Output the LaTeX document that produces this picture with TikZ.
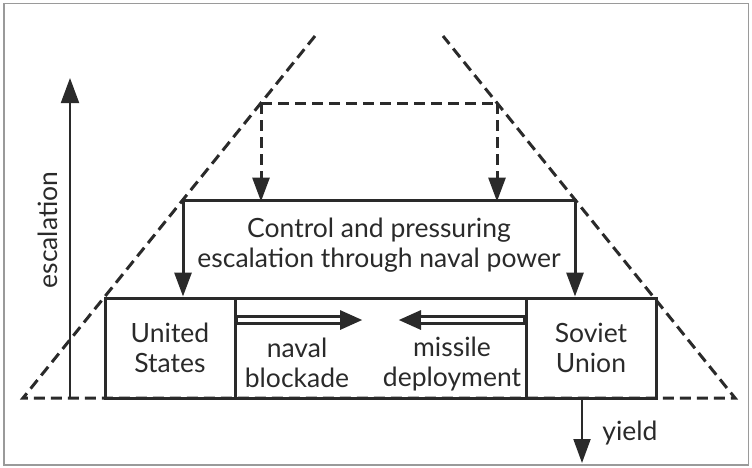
\documentclass[tikz,border=0pt]{standalone}
\usepackage{fontspec}
\setmainfont{Lato}
\usetikzlibrary{arrows.meta}
\definecolor{ink}{HTML}{2A2A2A}
\definecolor{framegray}{HTML}{9A9A9A}
\begin{document}
\begin{tikzpicture}[x=1pt,y=-1pt,
  every node/.style={font=\fontsize{26.5}{30}\selectfont, text=ink, inner sep=0pt},
  boxline/.style={draw=ink, line width=3pt},
  dashline/.style={draw=ink, line width=3pt, dash pattern=on 11pt off 6pt},
  bigtip/.style={-{Triangle[length=24pt,width=17pt]}},
  thinarrow/.style={draw=ink, line width=2pt},
  lbl/.style={align=center}]
\useasboundingbox (0,0) rectangle (752,467);
\draw[framegray, line width=1.5pt] (4,3.5) rectangle (748.5,465);

% dashed envelope
\coordinate (envTL) at (315,36);
\coordinate (envBL) at (23,398);
\coordinate (envBR) at (735,398);
\coordinate (envTR) at (443,36);
\draw[dashline, line join=miter] (envTL) -- (envBL) -- (envBR) -- (envTR);

% boxes
\node[boxline, minimum width=551pt, minimum height=100pt] (big) at (380.5,348) {};
\node[boxline, minimum width=130pt, minimum height=100pt] (us) at (170,348) {};
\node[boxline, minimum width=130pt, minimum height=100pt] (su) at (591,348) {};

\node[lbl] (ustext) at (170,348) {United\\States};
\node[lbl] (sutext) at (591,348) {Soviet\\Union};
\node[lbl] (navtext) at (297,363) {naval\\blockade};
\node[lbl] (mistext) at (452,364.5) {missile\\deployment};

% control box (top and arrow sides)
\coordinate (ctl) at (183,200);
\coordinate (ctr) at (575,200);
\node[lbl] (ctrl) at (379,245.5) {Control and pressuring\\escalation through naval power};
\draw[boxline, line cap=rect] (ctl) -- (ctr);
\draw[boxline, bigtip] (ctl) -- (ctl |- big.north);
\draw[boxline, bigtip] (ctr) -- (ctr |- big.north);

% dashed arrows from top
\coordinate (dl) at (261,103);
\coordinate (dr) at (497,103);
\draw[dashline] (dl) -- (dr);
\draw[dashline, bigtip] (dl) -- ([yshift=-1.5pt]dl |- ctl);
\draw[dashline, bigtip] (dr) -- ([yshift=-1.5pt]dr |- ctr);

% double arrows
\coordinate (ntip) at (363,320);
\coordinate (mtip) at (398,320);
\draw[ink, line width=9.5pt, -{Triangle[length=23pt,width=18pt]}] (us.east |- ntip) -- (ntip);
\draw[white, line width=4pt] ([xshift=1.5pt]us.east |- ntip) -- ([xshift=-23pt]ntip);
\draw[ink, line width=9.5pt, -{Triangle[length=23pt,width=18pt]}] (su.west |- mtip) -- (mtip);
\draw[white, line width=4pt] ([xshift=-1.5pt]su.west |- mtip) -- ([xshift=23pt]mtip);

% escalation axis
\coordinate (escB) at (70,398);
\coordinate (escT) at (70,78);
\draw[thinarrow, -{Triangle[length=25pt,width=18pt]}] (escB) -- (escT);
\node[rotate=90] (esc) at (48,230) {escalation};

% yield
\coordinate (yB) at (582,399);
\coordinate (yT) at (582,463);
\draw[thinarrow, -{Triangle[length=24pt,width=17pt]}] (yB) -- (yT);
\node (yl) at (630,433) {yield};
\end{tikzpicture}
\end{document}
